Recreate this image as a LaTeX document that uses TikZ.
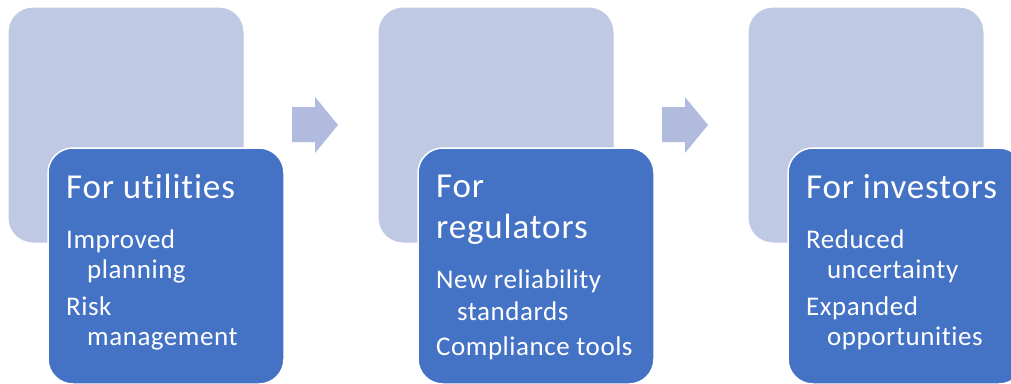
\documentclass[tikz,border=0pt]{standalone}
\usepackage{fontspec}
\setmainfont{Carlito}[Ligatures=NoCommon]
\newfontfamily\cardheadfont{Carlito}[LetterSpace=2.5,Ligatures=NoCommon]
\newfontfamily\cardtextfont{Carlito}[LetterSpace=2.0,Ligatures=NoCommon]
\definecolor{paleblue}{RGB}{191,201,228}
\definecolor{arrowblue}{RGB}{176,187,221}
\definecolor{deepblue}{RGB}{68,114,196}
\begin{document}
\begin{tikzpicture}[x=1pt,y=-1pt,
  backcard/.style={rectangle, fill=paleblue, draw=white, line width=1pt,
    rounded corners=25pt, minimum width=236pt, minimum height=236pt, inner sep=0pt},
  frontcard/.style={rectangle, fill=deepblue, draw=white, line width=1.5pt,
    rounded corners=25pt, minimum width=236pt, minimum height=236pt, inner sep=0pt},
  heading/.style={anchor=base west, text=white, inner sep=0pt,
    font=\cardheadfont\fontsize{35}{40}\selectfont},
  bullet/.style={anchor=base west, text=white, inner sep=0pt,
    font=\cardtextfont\fontsize{27}{30}\selectfont},
  flowarrow/.style={fill=arrowblue, draw=none}]
\useasboundingbox (0,0) rectangle (1011,383);
\clip (0,0) rectangle (1011,383);

% background cards
\node[backcard] (b1) at (126,125) {};
\node[backcard] (b2) at (496,125) {};
\node[backcard] (b3) at (866,125) {};

% foreground cards
\node[frontcard] (f1) at (166,266) {};
\node[frontcard] (f2) at (536,266) {};
\node[frontcard] (f3) at (906,266) {};

% block arrows between the stages
\foreach \s in {292,662}{
  \fill[flowarrow] (\s,107) -- (\s+23,107) -- (\s+23,97) -- (\s+46,125)
    -- (\s+23,153) -- (\s+23,142) -- (\s,142) -- cycle;
}

% stage 1
\node[heading] (t1) at (66,198) {For utilities};
\node[bullet] (u1) at (66,248) {Improved};
\node[bullet] (u2) at (87,278) {planning};
\node[bullet] (u3) at (66,315) {Risk};
\node[bullet] (u4) at (87,345) {management};

% stage 2
\node[heading] (t2a) at (436,197) {For};
\node[heading] (t2b) at (436,238) {regulators};
\node[bullet] (r1) at (436,288) {New reliability};
\node[bullet] (r2) at (457,320) {standards};
\node[bullet] (r3) at (436,355) {Compliance tools};

% stage 3
\node[heading] (t3) at (806,198) {For investors};
\node[bullet] (v1) at (806,248) {Reduced};
\node[bullet] (v2) at (827,278) {uncertainty};
\node[bullet] (v3) at (806,315) {Expanded};
\node[bullet] (v4) at (827,345) {opportunities};
\end{tikzpicture}
\end{document}
